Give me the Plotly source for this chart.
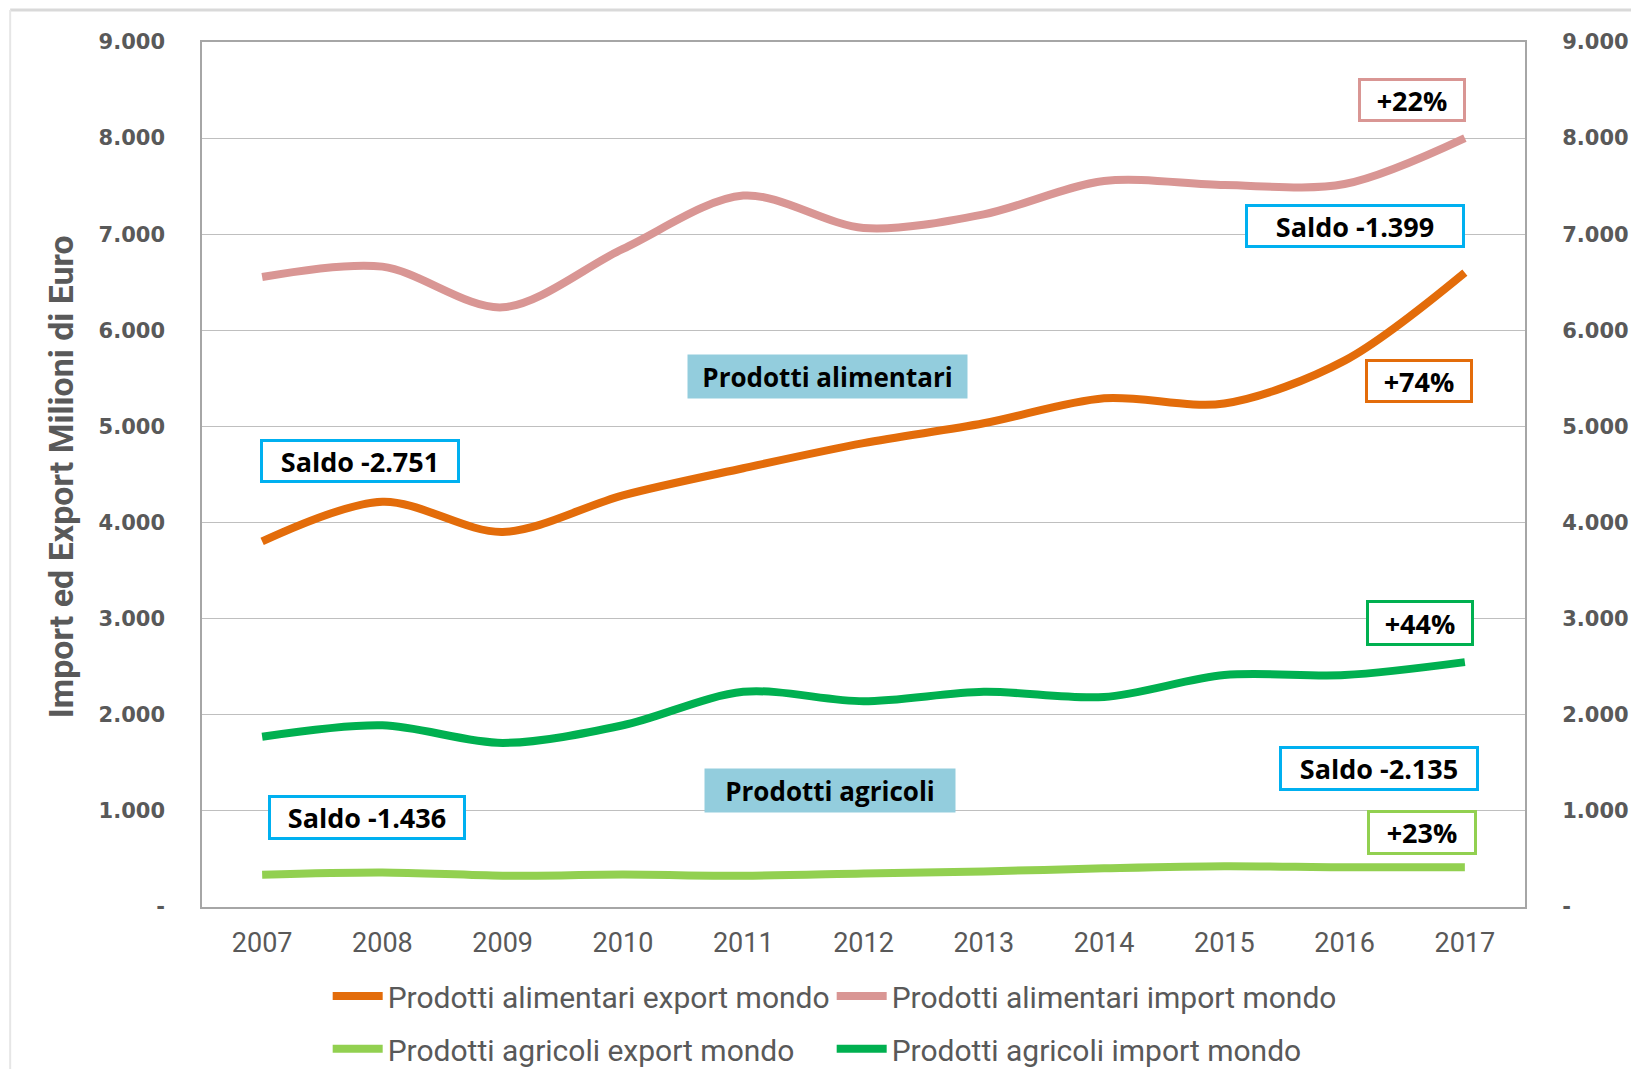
import plotly.graph_objects as go

# anni e valori (milioni di euro)
anni = [2007, 2008, 2009, 2010, 2011, 2012, 2013, 2014, 2015, 2016, 2017]
alimentari_export = [3804, 4217, 3902, 4283, 4565, 4826, 5033, 5293, 5239, 5685, 6601]
alimentari_import = [6555, 6663, 6239, 6848, 7402, 7065, 7207, 7554, 7511, 7522, 8000]
agricoli_export = [336, 359, 326, 337, 326, 348, 370, 402, 424, 413, 413]
agricoli_import = [1772, 1891, 1707, 1891, 2239, 2141, 2239, 2185, 2413, 2413, 2548]

y_ticks = [0, 1000, 2000, 3000, 4000, 5000, 6000, 7000, 8000, 9000]
y_ticktext = ["-", "1.000", "2.000", "3.000", "4.000", "5.000", "6.000", "7.000", "8.000", "9.000"]

ARANCIO = "#E36C0A"
ROSA = "#D99694"
VERDE_CHIARO = "#92D050"
VERDE = "#00B050"
AZZURRO = "#00B0F0"
GRIGIO = "#595959"
NARROW = "Liberation Sans Narrow, Roboto, sans-serif"

fig = go.Figure()

def add_line(y, name, color, legend):
    fig.add_trace(go.Scatter(
        x=anni, y=y, name=name, mode="lines",
        line=dict(color=color, width=8, shape="spline", smoothing=0.9),
        legend=legend,
    ))

add_line(alimentari_export, "Prodotti alimentari export mondo", ARANCIO, "legend")
add_line(alimentari_import, "Prodotti alimentari import mondo", ROSA, "legend")
add_line(agricoli_export, "Prodotti agricoli export mondo", VERDE_CHIARO, "legend2")
add_line(agricoli_import, "Prodotti agricoli import mondo", VERDE, "legend2")

# traccia invisibile solo per far disegnare l'asse destro
fig.add_trace(go.Scatter(x=anni, y=agricoli_export, yaxis="y2", mode="lines",
                         line=dict(width=0, color="rgba(0,0,0,0)"),
                         showlegend=False, hoverinfo="skip"))

# etichette in riquadro
boxes = [
    # testo, x, y, bordo, larghezza, altezza
    ("+22%", 2016.56, 8397, ROSA, 98, 34),
    ("Saldo -1.399", 2016.09, 7086, AZZURRO, 210, 34),
    ("+74%", 2016.62, 5473, ARANCIO, 98, 34),
    ("Saldo -2.751", 2007.81, 4641, AZZURRO, 190, 34),
    ("+44%", 2016.63, 2955, VERDE, 98, 36),
    ("Saldo -2.135", 2016.29, 1446, AZZURRO, 190, 35),
    ("Saldo -1.436", 2007.87, 936, AZZURRO, 188, 35),
    ("+23%", 2016.64, 770, VERDE_CHIARO, 100, 35),
]
for testo, x, y, bordo, w, h in boxes:
    fig.add_annotation(
        x=x, y=y, xref="x", yref="y", text=testo, showarrow=False,
        font=dict(family="Open Sans", size=27, color="black", weight="bold"),
        bordercolor=bordo, borderwidth=3, borderpad=2, bgcolor="white",
        width=w, height=h, align="center", valign="middle",
    )

for testo, x, y, w in [("Prodotti alimentari", 2011.70, 5515, 279),
                       ("Prodotti agricoli", 2011.72, 1217, 250)]:
    fig.add_annotation(
        x=x, y=y, xref="x", yref="y", text=testo, showarrow=False,
        font=dict(family="Open Sans", size=26, color="black", weight="bold"),
        bgcolor="#93CDDD", borderpad=0, width=w, height=43,
    )

# titolo asse y
fig.add_annotation(
    x=-0.1066, y=0.498, xref="paper", yref="paper", textangle=-90,
    text="Import ed Export Milioni di Euro", showarrow=False,
    font=dict(family=NARROW, size=34, color=GRIGIO, weight="bold"),
    xanchor="center", yanchor="middle",
)

# cornice del riquadro
fig.add_shape(type="line", xref="paper", yref="paper", x0=-0.145, x1=1.1, y0=1.037, y1=1.037,
              line=dict(color="#D9D9D9", width=3))
fig.add_shape(type="line", xref="paper", yref="paper", x0=-0.145, x1=-0.145, y0=1.037, y1=-0.25,
              line=dict(color="#E6E6E6", width=2))

legend_style = dict(
    orientation="h", xanchor="left", yanchor="middle",
    entrywidth=439, entrywidthmode="pixels", itemwidth=50,
    font=dict(family=NARROW, size=30, color=GRIGIO), bgcolor="rgba(0,0,0,0)",
    tracegroupgap=0,
)

fig.update_layout(
    width=1631, height=1061,
    margin=dict(l=194, r=114, t=34, b=162, autoexpand=False),
    plot_bgcolor="white", paper_bgcolor="white",
    xaxis=dict(
        range=[2006.5, 2017.5], tickvals=anni, ticktext=[str(a) for a in anni],
        tickfont=dict(family=NARROW, size=27, color=GRIGIO),
        ticks="outside", ticklen=11, tickcolor="rgba(0,0,0,0)",
        showgrid=False, showline=True, linecolor="#A6A6A6", linewidth=2, mirror=True,
        zeroline=False,
    ),
    yaxis=dict(
        range=[0, 9000], tickvals=y_ticks, ticktext=y_ticktext,
        tickfont=dict(family="DejaVu Sans", size=21, color=GRIGIO, weight="bold"),
        ticks="outside", ticklen=31, tickcolor="rgba(0,0,0,0)",
        showgrid=True, gridcolor="#BFBFBF", gridwidth=1,
        showline=True, linecolor="#A6A6A6", linewidth=1.5, mirror=True, zeroline=False,
    ),
    yaxis2=dict(
        range=[0, 9000], tickvals=y_ticks, ticktext=y_ticktext, overlaying="y", side="right",
        tickfont=dict(family="DejaVu Sans", size=21, color=GRIGIO, weight="bold"),
        ticks="outside", ticklen=32, tickcolor="rgba(0,0,0,0)",
        showgrid=False, zeroline=False, showline=False,
    ),
    legend=dict(x=0.095, y=-0.103, **legend_style),
    legend2=dict(x=0.095, y=-0.164, **legend_style),
    showlegend=True,
)

fig.write_html("out.html")
